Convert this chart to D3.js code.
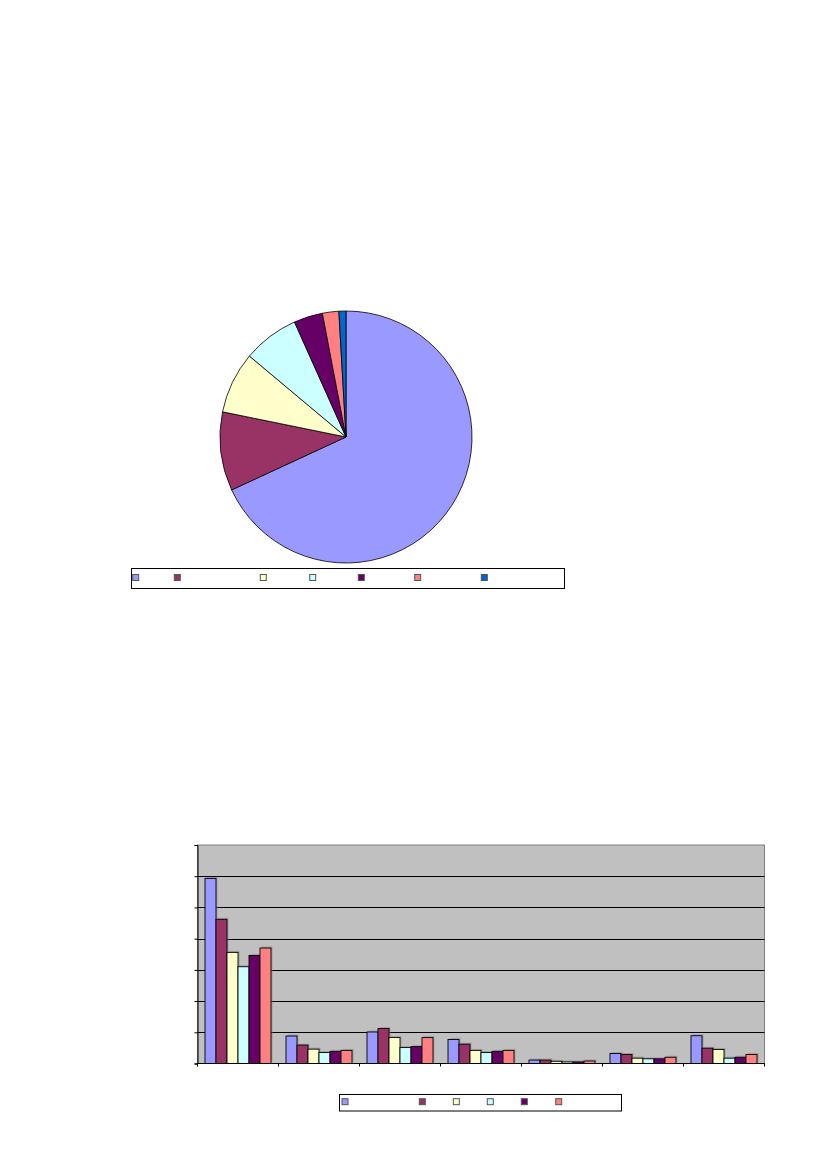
<!DOCTYPE html>
<html>
<head>
<meta charset="utf-8">
<script src="https://cdn.jsdelivr.net/npm/d3@7"></script>
<style>
  html, body { margin: 0; padding: 0; background: #ffffff; }
  svg { display: block; }
</style>
</head>
<body>
<svg id="chart" width="827" height="1169"></svg>
<script>
// ---------- DATA ----------
const pieCategories = ["A", "B", "C", "D", "E", "F", "G"];
const pieValues = [68.1, 10.1, 7.9, 7.2, 3.7, 2.1, 0.9];
const pieColors = ["#9999FF", "#993366", "#FFFFCC", "#CCFFFF", "#660066", "#FF8080", "#0066CC"];

const barGroups = ["G1", "G2", "G3", "G4", "G5", "G6", "G7"];
const barSeries = ["S1", "S2", "S3", "S4", "S5", "S6"];
const seriesS1 = [59.3, 8.8, 10.1, 7.7, 1.1, 3.2, 8.9];
const seriesS2 = [46.2, 5.9, 11.2, 6.2, 1.1, 2.9, 4.9];
const seriesS3 = [35.6, 4.6, 8.3, 4.2, 0.7, 1.7, 4.5];
const seriesS4 = [31.0, 3.5, 5.1, 3.5, 0.5, 1.5, 1.7];
const seriesS5 = [34.6, 3.9, 5.4, 3.9, 0.5, 1.5, 2.0];
const seriesS6 = [37.0, 4.2, 8.3, 4.2, 0.8, 2.0, 2.9];
const barColors = ["#9999FF", "#993366", "#FFFFCC", "#CCFFFF", "#660066", "#FF8080"];
const yTicks = [0, 10, 20, 30, 40, 50, 60, 70];

const svg = d3.select("#chart");

// ---------- PIE ----------
const pieCx = 346, pieCy = 437, pieR = 126;
const pie = d3.pie().sort(null).value(d => d.v);
const pieData = pie(pieValues.map((v, i) => ({ v, c: pieColors[i], k: pieCategories[i] })));
const arc = d3.arc().innerRadius(0).outerRadius(pieR);
svg.append("g")
  .attr("transform", `translate(${pieCx},${pieCy})`)
  .selectAll("path")
  .data(pieData)
  .join("path")
  .attr("d", arc)
  .attr("fill", d => d.data.c)
  .attr("stroke", "#000")
  .attr("stroke-width", 0.8)
  .attr("stroke-linejoin", "round");

// pie legend
const pieLegX = [135.7, 177.3, 263.3, 312.7, 361.3, 417.7, 484.3];
svg.append("rect")
  .attr("x", 131.5).attr("y", 568.5).attr("width", 433).attr("height", 20)
  .attr("fill", "#fff").attr("stroke", "#000").attr("stroke-width", 1);
svg.append("g").selectAll("rect")
  .data(pieColors)
  .join("rect")
  .attr("x", (d, i) => pieLegX[i] - 3)
  .attr("y", 574.5)
  .attr("width", 6).attr("height", 6)
  .attr("fill", d => d)
  .attr("stroke", "#555").attr("stroke-width", 1);

// ---------- BARS ----------
const plot = { left: 197.5, top: 845, right: 764.5, bottom: 1063.5 };
const allSeries = [seriesS1, seriesS2, seriesS3, seriesS4, seriesS5, seriesS6];

const x0 = d3.scaleBand().domain(barGroups).range([plot.left, plot.right]).padding(0);
const x1 = d3.scaleBand().domain(barSeries).range([7.5, x0.bandwidth() - 7.5]).padding(0);
const y = d3.scaleLinear().domain([0, 70]).range([plot.bottom, plot.top]);

// plot background
svg.append("rect")
  .attr("x", plot.left).attr("y", plot.top)
  .attr("width", plot.right - plot.left).attr("height", plot.bottom - plot.top)
  .attr("fill", "#C0C0C0").attr("stroke", "#808080").attr("stroke-width", 1);

// gridlines
svg.append("g").selectAll("line")
  .data(yTicks.filter(t => t > 0 && t < 70))
  .join("line")
  .attr("x1", plot.left).attr("x2", plot.right)
  .attr("y1", d => Math.round(y(d)) + 0.5).attr("y2", d => Math.round(y(d)) + 0.5)
  .attr("stroke", "#000").attr("stroke-width", 1);

// bars
const barRows = [];
barGroups.forEach((g, gi) => {
  barSeries.forEach((s, si) => {
    barRows.push({ g, s, v: allSeries[si][gi], c: barColors[si] });
  });
});
const barG = svg.append("g");
// shadow
barG.selectAll("rect.shadow")
  .data(barRows)
  .join("rect")
  .attr("class", "shadow")
  .attr("x", d => x0(d.g) + x1(d.s) + 1.5)
  .attr("y", d => y(d.v) - 1.5)
  .attr("width", x1.bandwidth())
  .attr("height", d => y(0) - y(d.v))
  .attr("fill", "#8a8a8a").attr("opacity", 0.6);
barG.selectAll("rect.bar")
  .data(barRows)
  .join("rect")
  .attr("class", "bar")
  .attr("x", d => x0(d.g) + x1(d.s))
  .attr("y", d => y(d.v))
  .attr("width", x1.bandwidth())
  .attr("height", d => y(0) - y(d.v))
  .attr("fill", d => d.c)
  .attr("stroke", "#000").attr("stroke-width", 0.9);

// y axis
const yAxis = d3.axisLeft(y).tickValues(yTicks).tickSize(3).tickFormat("");
svg.append("g")
  .attr("transform", `translate(${plot.left},0)`)
  .call(yAxis)
  .call(g => g.select(".domain").attr("stroke", "#000"))
  .call(g => g.selectAll(".tick line").attr("stroke", "#000"));

// x axis
const xTickPos = barGroups.map(g => x0(g)).concat([plot.right]);
svg.append("line")
  .attr("x1", plot.left - 1).attr("x2", plot.right)
  .attr("y1", plot.bottom).attr("y2", plot.bottom)
  .attr("stroke", "#000").attr("stroke-width", 1);
svg.append("g").selectAll("line")
  .data(xTickPos)
  .join("line")
  .attr("x1", d => d).attr("x2", d => d)
  .attr("y1", plot.bottom).attr("y2", plot.bottom + 3)
  .attr("stroke", "#000");

// bar legend
const barLegX = [345, 422.3, 456.3, 490.3, 524.3, 558.7];
svg.append("rect")
  .attr("x", 339.5).attr("y", 1094.5).attr("width", 282).attr("height", 16.5)
  .attr("fill", "#fff").attr("stroke", "#000").attr("stroke-width", 1);
svg.append("g").selectAll("rect")
  .data(barColors)
  .join("rect")
  .attr("x", (d, i) => barLegX[i] - 3)
  .attr("y", 1098.7)
  .attr("width", 6).attr("height", 6)
  .attr("fill", d => d)
  .attr("stroke", "#555").attr("stroke-width", 1);
</script>
</body>
</html>
